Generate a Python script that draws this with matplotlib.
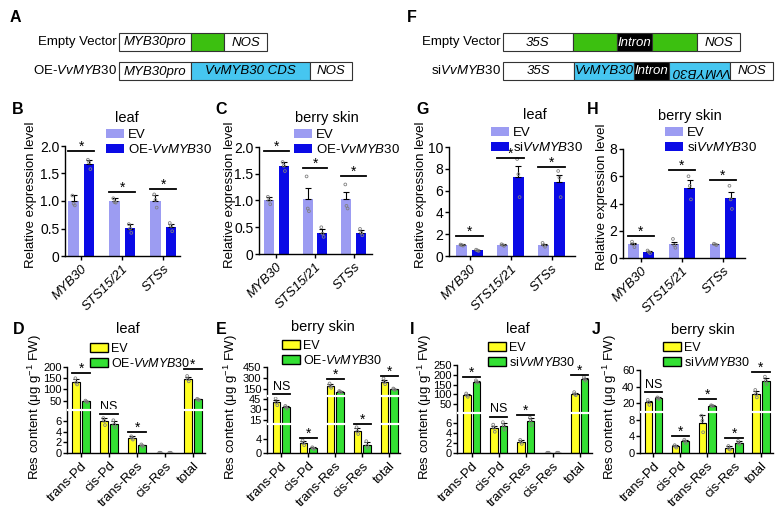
import numpy as np
import matplotlib
matplotlib.use('Agg')
import matplotlib.pyplot as plt
from matplotlib.patches import Rectangle, Patch

plt.rcParams['font.family'] = ['Liberation Sans', 'DejaVu Sans']
plt.rcParams['mathtext.fontset'] = 'custom'
plt.rcParams['mathtext.rm'] = 'Liberation Sans'
plt.rcParams['mathtext.it'] = 'Liberation Sans:italic'
plt.rcParams['mathtext.bf'] = 'Liberation Sans:bold'
plt.rcParams['axes.linewidth'] = 1.0

W, H = 780, 511

# ---------------- data ----------------
qpcr_genes = ['MYB30', 'STS15/21', 'STSs']
res_cats = ['trans-Pd', 'cis-Pd', 'trans-Res', 'cis-Res', 'total']

# B: leaf, OE
B_ev = [1.0, 1.0, 1.0]
B_ev_err = [0.1, 0.05, 0.1]
B_ev_pts = [[1.1, 0.95, 0.92], [1.05, 0.98, 0.97], [1.12, 1.02, 0.88]]
B_oe = [1.67, 0.5, 0.53]
B_oe_err = [0.08, 0.08, 0.06]
B_oe_pts = [[1.75, 1.7, 1.58], [0.58, 0.5, 0.42], [0.6, 0.55, 0.45]]
B_sig = [1.9, 1.17, 1.22]

# C: berry skin, OE
C_ev = [1.0, 1.03, 1.02]
C_ev_err = [0.07, 0.2, 0.14]
C_ev_pts = [[1.07, 1.0, 0.93], [1.45, 0.85, 0.8], [1.3, 0.9, 0.85]]
C_oe = [1.64, 0.4, 0.4]
C_oe_err = [0.08, 0.06, 0.05]
C_oe_pts = [[1.72, 1.65, 1.55], [0.5, 0.38, 0.32], [0.47, 0.4, 0.35]]
C_sig = [1.93, 1.6, 1.45]

# G: leaf, si
G_ev = [1.0, 1.0, 1.0]
G_ev_err = [0.08, 0.07, 0.1]
G_ev_pts = [[1.05, 1.0, 0.95], [1.08, 1.0, 0.93], [1.2, 1.0, 0.85]]
G_si = [0.52, 7.23, 6.77]
G_si_err = [0.05, 1.05, 0.7]
G_si_pts = [[0.58, 0.52, 0.47], [8.9, 7.5, 5.4], [7.8, 7.2, 5.4]]
G_sig = [1.85, 8.98, 8.15]

# H: berry skin, si
H_ev = [1.0, 1.0, 1.0]
H_ev_err = [0.12, 0.15, 0.06]
H_ev_pts = [[1.2, 1.0, 0.8], [1.4, 0.95, 0.75], [1.05, 1.0, 0.95]]
H_si = [0.44, 5.16, 4.38]
H_si_err = [0.08, 0.54, 0.5]
H_si_pts = [[0.55, 0.45, 0.35], [6.0, 5.3, 4.3], [5.3, 4.3, 3.6]]
H_sig = [1.61, 6.43, 5.7]

# D: leaf, OE (Res content)
D_ev = [134, 5.9, 2.8, 0.0, 147]
D_ev_err = [12, 0.6, 0.3, 0.0, 10]
D_ev_pts = [[150, 130, 122], [6.5, 6.0, 5.2], [3.1, 2.8, 2.5], [0.05, 0.05, 0.05], [160, 145, 136]]
D_oe = [46, 5.4, 1.4, 0.0, 55]
D_oe_err = [3, 0.6, 0.15, 0.0, 3]
D_oe_pts = [[50, 46, 43], [6.1, 5.3, 4.8], [1.6, 1.4, 1.2], [0.05, 0.05, 0.05], [58, 55, 52]]
D_sig = [172, 7.2, 3.9, None, 190]
D_sig_txt = ['*', 'NS', '*', '', '*']

# E: berry skin, OE
E_ev = [40, 2.8, 185, 6.1, 245]
E_ev_err = [4, 0.6, 25, 1.0, 30]
E_ev_pts = [[46, 40, 36], [3.5, 2.8, 2.2], [220, 180, 160], [7.2, 6.0, 5.3], [290, 240, 210]]
E_oe = [33, 1.3, 105, 2.2, 140]
E_oe_err = [2, 0.3, 10, 0.8, 10]
E_oe_pts = [[35, 33, 31], [1.6, 1.3, 1.1], [115, 105, 98], [3.3, 2.0, 1.5], [150, 140, 130]]
E_sig = [68, 4.3, 282, 8.3, 329]
E_sig_txt = ['NS', '*', '*', '*', '*']

# I: leaf, si
I_ev = [95, 4.9, 2.2, 0.0, 103]
I_ev_err = [6, 0.5, 0.3, 0.0, 6]
I_ev_pts = [[105, 95, 88], [5.6, 5.0, 4.2], [2.6, 2.2, 1.8], [0.05, 0.05, 0.05], [112, 102, 96]]
I_si = [165, 5.3, 6.3, 0.0, 178]
I_si_err = [6, 0.6, 0.6, 0.0, 8]
I_si_pts = [[172, 165, 160], [6.1, 5.4, 4.6], [7.0, 6.4, 5.5], [0.05, 0.05, 0.05], [188, 178, 170]]
I_sig = [190, 7.2, 7.5, None, 200]
I_sig_txt = ['*', 'NS', '*', '', '*']

# J: berry skin, si
J_ev = [21, 1.6, 7.3, 1.2, 31]
J_ev_err = [2, 0.3, 1.8, 0.4, 4]
J_ev_pts = [[24, 21, 18], [1.9, 1.6, 1.3], [9.0, 7.8, 5.0], [1.7, 1.0, 0.8], [36, 31, 27]]
J_si = [26, 2.8, 17, 2.4, 47]
J_si_err = [1.5, 0.4, 1.0, 0.4, 3]
J_si_pts = [[27, 26, 25], [3.2, 2.8, 2.4], [17.5, 17, 16.5], [2.9, 2.4, 2.0], [52, 47, 43]]
J_sig = [33.5, 4.2, 25, 3.7, 57]
J_sig_txt = ['NS', '*', '*', '*', '*']

# ---------------- styles ----------------
EV_TOP = '#9c9cf2'
OE_TOP = '#0a0ae6'
EV_BOT = '#ffff22'
OE_BOT = '#33e033'
GREEN_BOX = '#3cc010'
BLUE_BOX = '#46c6f0'

fig = plt.figure(figsize=(7.8, 5.11), dpi=100)

def rect_px(x0, x1, y0, y1):
    return [x0 / W, 1 - y1 / H, (x1 - x0) / W, (y1 - y0) / H]

def ftext(x, y, s, **kw):
    fig.text(x / W, 1 - y / H, s, **kw)

# ---------- construct diagrams (A, F) ----------
dg = fig.add_axes([0, 0, 1, 1])
dg.set_xlim(0, W)
dg.set_ylim(H, 0)
dg.axis('off')

def box(x0, x1, y0, y1, fc, label='', tc='black', rot=0):
    dg.add_patch(Rectangle((x0, y0), x1 - x0, y1 - y0, facecolor=fc,
                           edgecolor='#333333', lw=0.8))
    if label:
        dg.text((x0 + x1) / 2, (y0 + y1) / 2 + 0.5, label, ha='center', va='center',
                fontsize=9.5, style='italic', color=tc, rotation=rot)

# A
dg.text(117, 42.5, 'Empty Vector', ha='right', va='center', fontsize=9.5)
box(119, 191, 33, 51, 'white', 'MYB30pro')
box(191, 224, 33, 51, GREEN_BOX)
box(224, 267, 33, 51, 'white', 'NOS')
dg.text(117, 71, r'OE-$\it{VvMYB30}$', ha='right', va='center', fontsize=9.5)
box(119, 191, 62, 80, 'white', 'MYB30pro')
box(191, 310, 62, 80, BLUE_BOX, 'VvMYB30 CDS')
box(310, 352, 62, 80, 'white', 'NOS')
# F
dg.text(501, 42.5, 'Empty Vector', ha='right', va='center', fontsize=9.5)
box(503, 573, 33, 51, 'white', '35S')
box(573, 617, 33, 51, GREEN_BOX)
box(617, 652, 33, 51, 'black', 'Intron', tc='white')
box(652, 697, 33, 51, GREEN_BOX)
box(697, 740, 33, 51, 'white', 'NOS')
dg.text(501, 71, r'si$\it{VvMYB30}$', ha='right', va='center', fontsize=9.5)
box(503, 574, 62, 80, 'white', '35S')
box(574, 634, 62, 80, BLUE_BOX, 'VvMYB30')
box(634, 669, 62, 80, 'black', 'Intron', tc='white')
box(669, 730, 62, 80, BLUE_BOX, 'VvMYB30', rot=180)
box(730, 773, 62, 80, 'white', 'NOS')

# ---------- bar panel helper ----------
def panel(rect, cats, ev, ev_err, ev_pts, tr, tr_err, tr_pts, sig, sig_txt,
          c_ev, c_tr, xlim, ylim, yticks, yticklabels, width, off, edge,
          xital, xfs, yfs, breaks=None, breaklines=()):
    ax = fig.add_axes(rect_px(*rect))
    if breaks is not None:
        bd, bf = breaks
        ax.set_yscale('function', functions=(lambda v: np.interp(v, bd, bf),
                                             lambda s: np.interp(s, bf, bd)))
    x = np.arange(len(cats))
    ec = 'black' if edge else 'none'
    ax.bar(x - off, ev, width, color=c_ev, edgecolor=ec, lw=0.8, zorder=2)
    ax.bar(x + off, tr, width, color=c_tr, edgecolor=ec, lw=0.8, zorder=2)
    ax.errorbar(x - off, ev, yerr=[np.zeros(len(ev)), ev_err], fmt='none',
                ecolor='black', elinewidth=0.8, capsize=2, capthick=0.8, zorder=3)
    ax.errorbar(x + off, tr, yerr=[np.zeros(len(tr)), tr_err], fmt='none',
                ecolor='black', elinewidth=0.8, capsize=2, capthick=0.8, zorder=3)
    jit = [-0.03, 0.0, 0.03]
    for i in range(len(cats)):
        for j, p in enumerate(ev_pts[i]):
            ax.scatter(x[i] - off + jit[j], p, s=4, facecolor='none',
                       edgecolor='#808080', lw=0.6, zorder=4)
        for j, p in enumerate(tr_pts[i]):
            ax.scatter(x[i] + off + jit[j], p, s=4, facecolor='none',
                       edgecolor='#808080', lw=0.6, zorder=4)
    for i in range(len(cats)):
        if sig[i] is None:
            continue
        ax.plot([x[i] - off - width / 2, x[i] + off + width / 2], [sig[i], sig[i]],
                color='black', lw=1.3, zorder=5, clip_on=False)
        if sig_txt[i] == '*':
            ax.annotate('*', (x[i], sig[i]), xytext=(0, -2), textcoords='offset points',
                        ha='center', va='bottom', fontsize=10, annotation_clip=False)
        else:
            ax.annotate(sig_txt[i], (x[i], sig[i]), xytext=(0, 1), textcoords='offset points',
                        ha='center', va='bottom', fontsize=9, annotation_clip=False)
    for b in breaklines:
        ax.axhline(b, xmin=0.01, xmax=1, color='white', lw=1.6, zorder=4.5)
    ax.set_xlim(*xlim)
    ax.set_ylim(*ylim)
    ax.set_yticks(yticks)
    ax.set_yticklabels(yticklabels, fontsize=yfs)
    ax.set_xticks(x)
    ax.set_xticklabels(cats, rotation=45, ha='right', rotation_mode='anchor',
                       fontsize=xfs, style='italic' if xital else 'normal')
    ax.yaxis.set_minor_locator(matplotlib.ticker.NullLocator())
    for s in ['top', 'right']:
        ax.spines[s].set_visible(False)
    ax.tick_params(axis='both', length=3, width=1, pad=1)
    ax.tick_params(axis='x', pad=2)
    ax.patch.set_alpha(0)
    return ax

def legend(ax, x, y, c1, c2, lab2, edge, fs=9.5):
    ec = 'black' if edge else 'none'
    h = [Patch(facecolor=c1, edgecolor=ec, lw=1), Patch(facecolor=c2, edgecolor=ec, lw=1)]
    fig.legend(h, ['EV', lab2], loc='upper left', bbox_to_anchor=(x / W, 1 - y / H),
               frameon=False, fontsize=fs, handlelength=1.4, handleheight=0.65,
               handletextpad=0.25, labelspacing=0.15, borderpad=0, borderaxespad=0)

top_ticks = dict(yticks=[0, 0.5, 1.0, 1.5, 2.0], yticklabels=['0', '0.5', '1.0', '1.5', '2.0'])
TW, TO = 0.26, 0.19
BW, BO = 0.28, 0.18

axB = panel((65, 180, 146, 256), qpcr_genes, B_ev, B_ev_err, B_ev_pts, B_oe, B_oe_err, B_oe_pts,
            B_sig, ['*'] * 3, EV_TOP, OE_TOP, (-0.40, 2.41), (0, 2), width=TW, off=TO, edge=False,
            xital=True, xfs=9.5, yfs=10, **top_ticks)
axC = panel((259, 372, 147, 254), qpcr_genes, C_ev, C_ev_err, C_ev_pts, C_oe, C_oe_err, C_oe_pts,
            C_sig, ['*'] * 3, EV_TOP, OE_TOP, (-0.45, 2.47), (0, 2), width=TW, off=TO, edge=False,
            xital=True, xfs=9.5, yfs=10, **top_ticks)
axG = panel((449, 575, 147, 256), qpcr_genes, G_ev, G_ev_err, G_ev_pts, G_si, G_si_err, G_si_pts,
            G_sig, ['*'] * 3, EV_TOP, OE_TOP, (-0.5, 2.57), (0, 10), width=TW, off=TO, edge=False,
            xital=True, xfs=9.5, yfs=10, yticks=[0, 2, 4, 6, 8, 10],
            yticklabels=['0', '2', '4', '6', '8', '10'])
axH = panel((623, 745, 149, 258), qpcr_genes, H_ev, H_ev_err, H_ev_pts, H_si, H_si_err, H_si_pts,
            H_sig, ['*'] * 3, EV_TOP, OE_TOP, (-0.44, 2.54), (0, 8), width=TW, off=TO, edge=False,
            xital=True, xfs=9.5, yfs=10, yticks=[0, 2, 4, 6, 8],
            yticklabels=['0', '2', '4', '6', '8'])

axD = panel((67, 205, 367, 453), res_cats, D_ev, D_ev_err, D_ev_pts, D_oe, D_oe_err, D_oe_pts,
            D_sig, D_sig_txt, EV_BOT, OE_BOT, (-0.51, 4.43), (0, 200), width=BW, off=BO, edge=True,
            xital=False, xfs=9.5, yfs=8, yticks=[0, 2, 4, 6, 50, 100, 150, 200],
            yticklabels=['0', '2', '4', '6', '50', '100', '150', '200'],
            breaks=([0, 8, 200], [0, 0.5, 1]), breaklines=[8])
axE = panel((267, 400, 367, 453), res_cats, E_ev, E_ev_err, E_ev_pts, E_oe, E_oe_err, E_oe_pts,
            E_sig, E_sig_txt, EV_BOT, OE_BOT, (-0.53, 4.4), (0, 450), width=BW, off=BO, edge=True,
            xital=False, xfs=9.5, yfs=8, yticks=[0, 4, 15, 30, 45, 150, 300, 450],
            yticklabels=['0', '4', '15', '30', '45', '150', '300', '450'],
            breaks=([0, 8, 50, 450], [0, 1 / 3, 2 / 3, 1]), breaklines=[8, 50])
axI = panel((457, 592, 365, 453), res_cats, I_ev, I_ev_err, I_ev_pts, I_si, I_si_err, I_si_pts,
            I_sig, I_sig_txt, EV_BOT, OE_BOT, (-0.55, 4.45), (0, 250), width=BW, off=BO, edge=True,
            xital=False, xfs=9.5, yfs=8, yticks=[0, 2, 4, 6, 50, 100, 150, 200, 250],
            yticklabels=['0', '2', '4', '6', '50', '100', '150', '200', '250'],
            breaks=([0, 8, 250], [0, 0.46, 1]), breaklines=[8])
axJ = panel((640, 773, 370, 453), res_cats, J_ev, J_ev_err, J_ev_pts, J_si, J_si_err, J_si_pts,
            J_sig, J_sig_txt, EV_BOT, OE_BOT, (-0.5, 4.45), (0, 60), width=BW, off=BO, edge=True,
            xital=False, xfs=9.5, yfs=8, yticks=[0, 4, 8, 20, 40, 60],
            yticklabels=['0', '4', '8', '20', '40', '60'],
            breaks=([0, 10, 60], [0, 0.5, 1]), breaklines=[10])

# legends
legend(axB, 106, 129, EV_TOP, OE_TOP, r'OE-$\it{VvMYB30}$', False)
legend(axC, 294, 129, EV_TOP, OE_TOP, r'OE-$\it{VvMYB30}$', False)
legend(axG, 491, 127, EV_TOP, OE_TOP, r'si$\it{VvMYB30}$', False)
legend(axH, 665, 127, EV_TOP, OE_TOP, r'si$\it{VvMYB30}$', False)
legend(axD, 90, 343, EV_BOT, OE_BOT, r'OE-$\it{VvMYB30}$', True, fs=9)
legend(axE, 282, 340, EV_BOT, OE_BOT, r'OE-$\it{VvMYB30}$', True, fs=9)
legend(axI, 488, 342, EV_BOT, OE_BOT, r'si$\it{VvMYB30}$', True, fs=9)
legend(axJ, 663, 342, EV_BOT, OE_BOT, r'si$\it{VvMYB30}$', True, fs=9)

# titles
for (x, y, s) in [(127, 118, 'leaf'), (327, 118, 'berry skin'), (535, 115, 'leaf'),
                  (690, 116, 'berry skin'), (128, 329, 'leaf'), (323, 327, 'berry skin'),
                  (518, 329, 'leaf'), (703, 330, 'berry skin')]:
    ftext(x, y, s, ha='center', va='center', fontsize=10.5)

# y labels
for (x, y) in [(31, 195), (230, 195), (421, 195), (602, 197)]:
    ftext(x, y, 'Relative expression level', rotation=90, ha='center', va='center', fontsize=9.5)
for (x, y) in [(35, 407), (231, 407), (425, 407), (610, 407)]:
    ftext(x, y, r'Res content (μg g$^{-1}$ FW)', rotation=90, ha='center', va='center', fontsize=9.5)

# panel letters
for (x, y, s) in [(10, 18, 'A'), (407, 18, 'F'), (12, 109, 'B'), (215, 109, 'C'),
                  (416, 109, 'G'), (587, 109, 'H'), (13, 329, 'D'), (216, 329, 'E'),
                  (410, 329, 'I'), (592, 329, 'J')]:
    ftext(x, y, s, ha='left', va='center', fontsize=11.5, fontweight='bold')

fig.savefig('out.png', dpi=100)
